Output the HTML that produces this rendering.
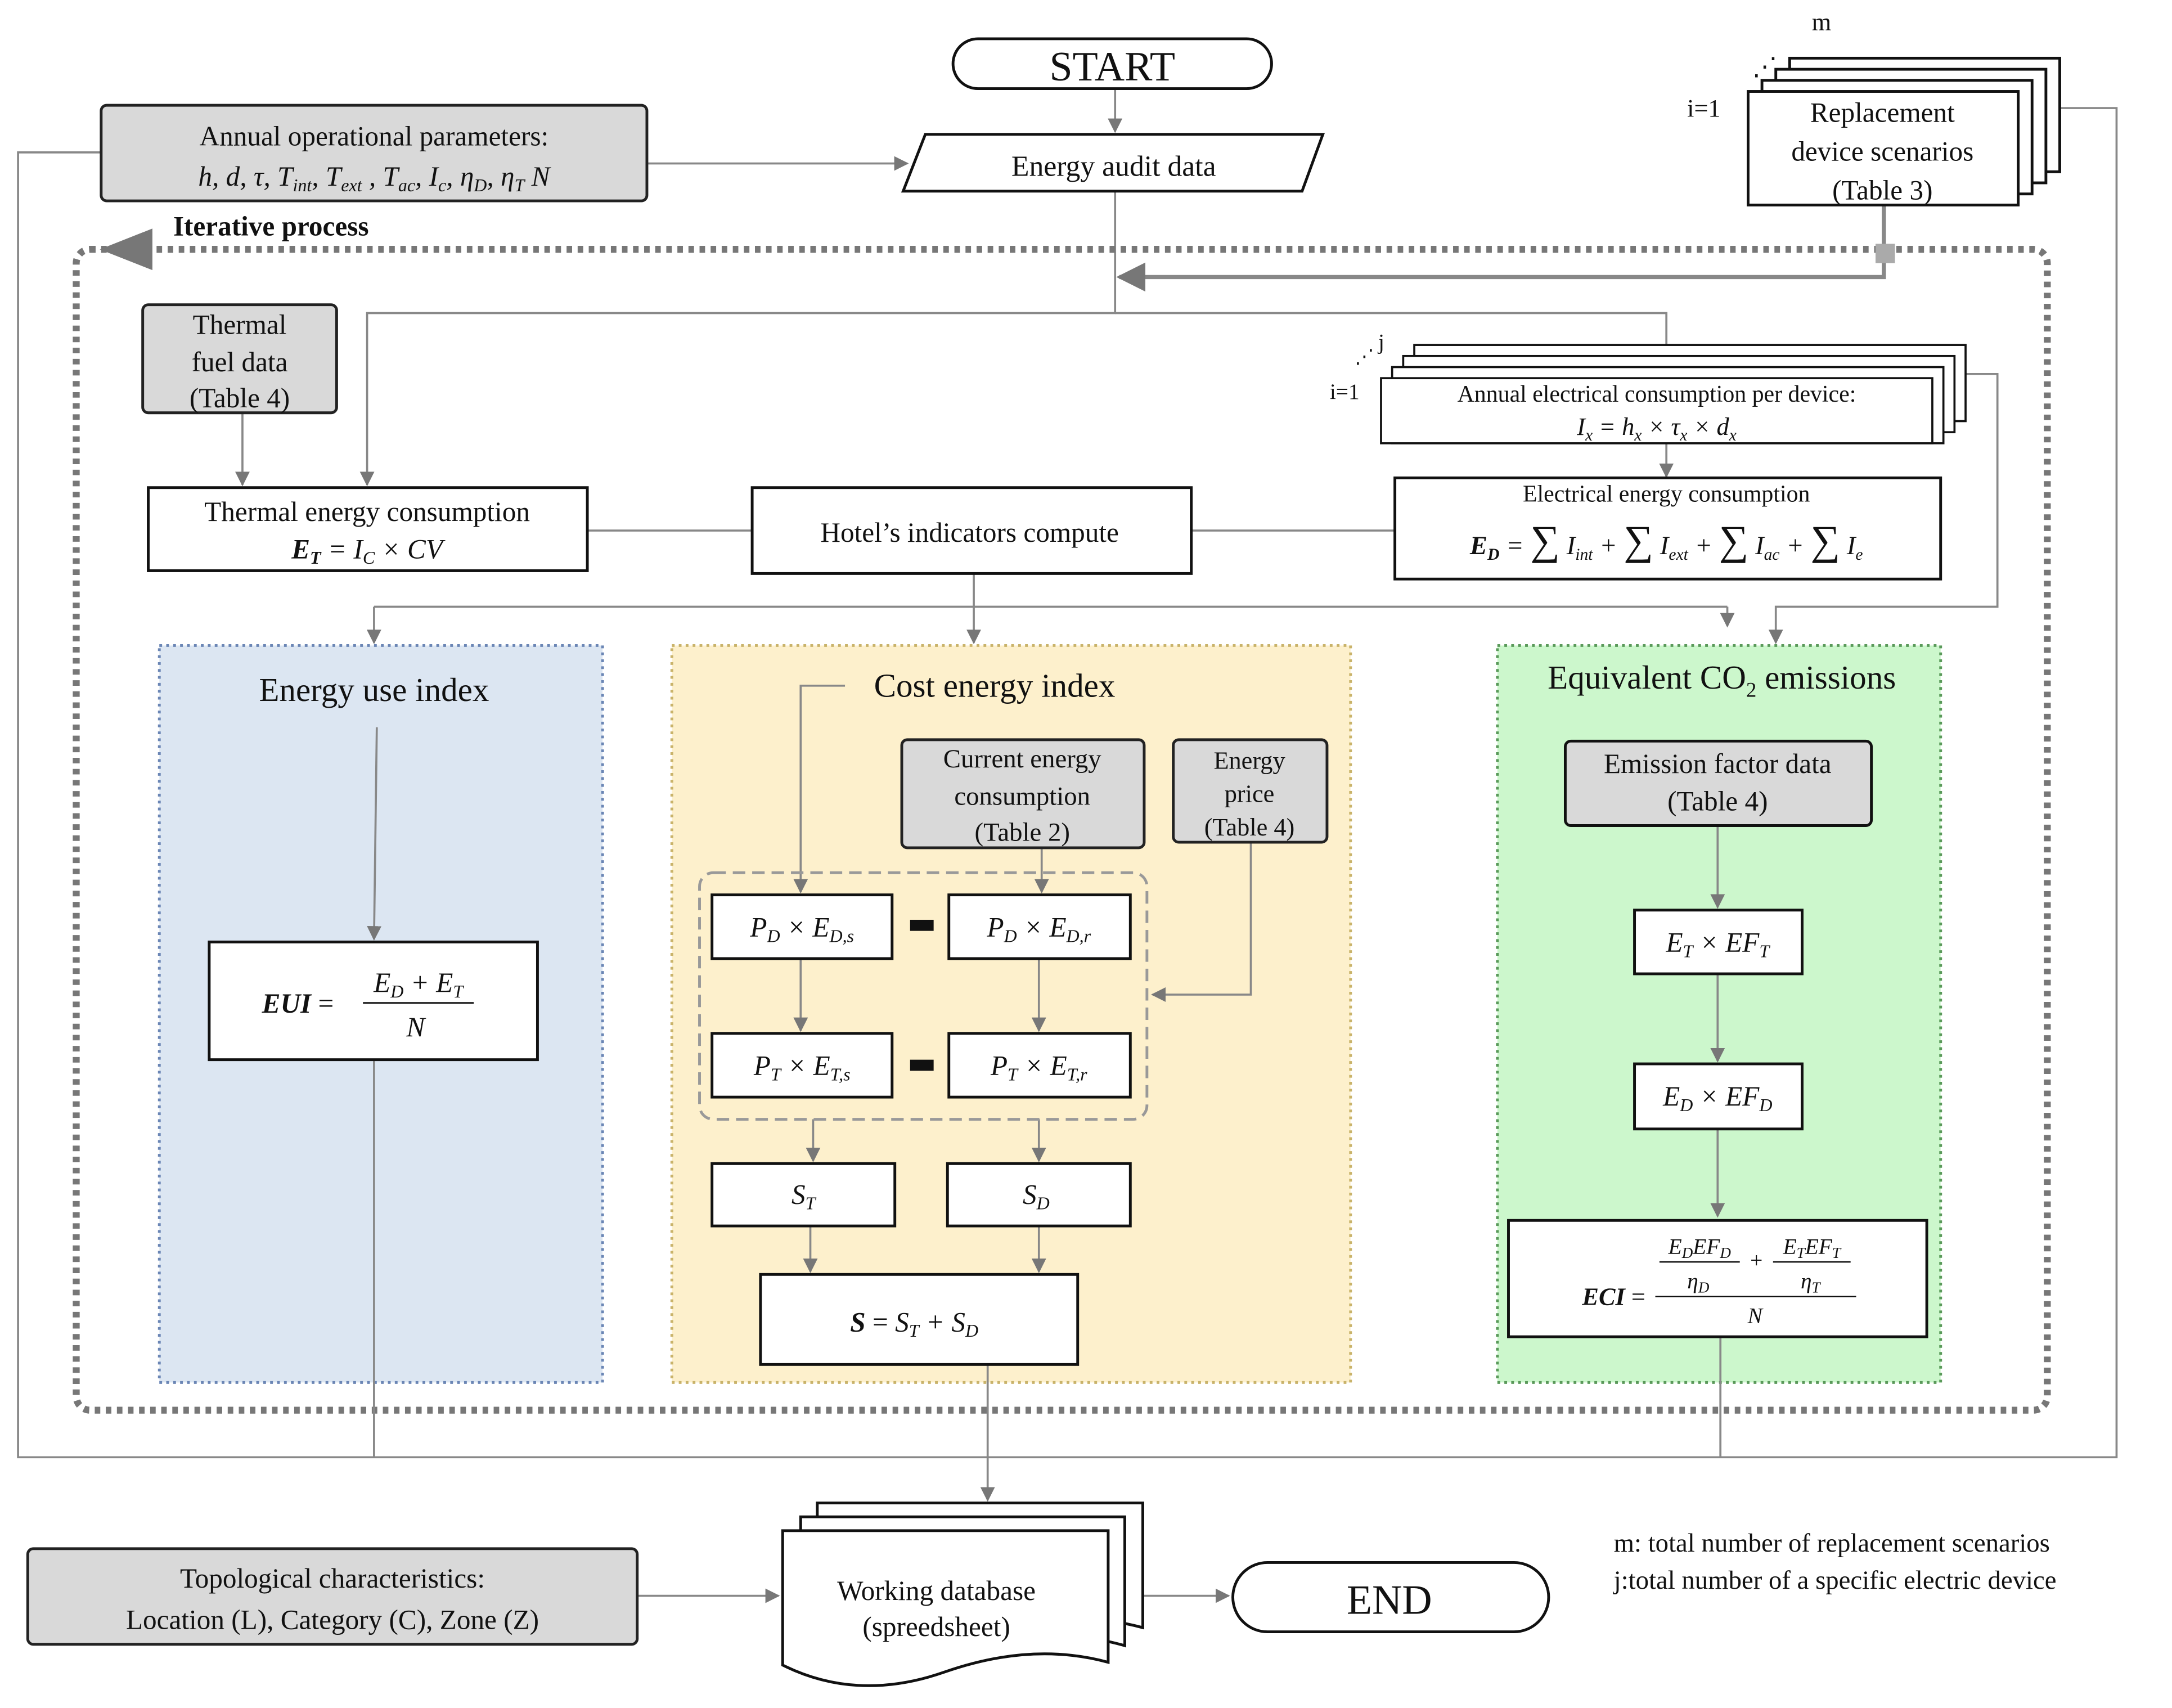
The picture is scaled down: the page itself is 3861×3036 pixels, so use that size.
<!DOCTYPE html>
<html><head><meta charset="utf-8"><style>
html,body{margin:0;padding:0;background:#fff}
svg{display:block;font-family:"Liberation Serif","DejaVu Serif",serif}
svg text{font-family:"Liberation Serif","DejaVu Serif",serif;fill:#111}
.i{font-style:italic}
.b{font-weight:bold}
</style></head><body>
<svg width="3861" height="3036" viewBox="0 0 1568 1233" xmlns="http://www.w3.org/2000/svg" font-family="Liberation Serif, DejaVu Serif, serif">
<defs>
<marker id="a" viewBox="0 0 10 10" refX="9" refY="5" markerWidth="7" markerHeight="7" orient="auto"><path d="M0,0L10,5L0,10z" fill="#777"/></marker>
</defs>
<g stroke="#888" stroke-width="1.5" fill="none">
<polyline points="73,110 13,110 13,1052 1528,1052 1528,78 1485,78"/>
<line x1="805" y1="64" x2="805" y2="95" marker-end="url(#a)"/>
<line x1="467" y1="118" x2="655" y2="118" marker-end="url(#a)"/>
<polyline points="805,138 805,226 265,226 265,350" marker-end="url(#a)"/>
<polyline points="805,226 1203,226 1203,250"/>
<polyline points="1360,148 1360,200 808,200" stroke-width="3" marker-end="url(#a)"/>
<line x1="175" y1="298" x2="175" y2="350" marker-end="url(#a)"/>
<line x1="424" y1="383" x2="543" y2="383"/>
<line x1="860" y1="383" x2="1007" y2="383"/>
<line x1="1203" y1="320" x2="1203" y2="344" marker-end="url(#a)"/>
<polyline points="1418,270 1442,270 1442,438 1282,438 1282,464" marker-end="url(#a)"/>
<line x1="703" y1="414" x2="703" y2="438"/>
<line x1="270" y1="438" x2="1247" y2="438"/>
<line x1="270" y1="438" x2="270" y2="464" marker-end="url(#a)"/>
<line x1="703" y1="438" x2="703" y2="464" marker-end="url(#a)"/>
<line x1="1247" y1="438" x2="1247" y2="452" marker-end="url(#a)"/>
</g>
<rect x="55" y="180" width="1423" height="838" rx="10" fill="none" stroke="#777" stroke-width="5" stroke-dasharray="4,4"/>
<path d="M72,180 L110,165 L110,195z" fill="#777"/>
<text x="125" y="170" font-size="20" class="b">Iterative process</text>
<rect x="1354" y="176" width="14" height="14" fill="#aaa"/>
<rect x="115" y="466" width="320" height="532" fill="#dce6f2" stroke="#6b86b5" stroke-width="2" stroke-dasharray="2,3"/>
<rect x="485" y="466" width="490" height="532" fill="#fdf0cc" stroke="#c9b36a" stroke-width="2" stroke-dasharray="2,3"/>
<rect x="1081" y="466" width="320" height="532" fill="#ccf7cc" stroke="#5a9a5a" stroke-width="2" stroke-dasharray="2,3"/>
<text x="270" y="506" font-size="24" text-anchor="middle">Energy use index</text>
<text x="718" y="503" font-size="24" text-anchor="middle">Cost energy index</text>
<text x="1243" y="497" font-size="24" text-anchor="middle">Equivalent CO<tspan font-size="15" dy="6">2</tspan><tspan dy="-6"> emissions</tspan></text>
<g stroke="#888" stroke-width="1.5" fill="none">
<line x1="272" y1="525" x2="270" y2="678" marker-end="url(#a)"/>
<polyline points="610,495 578,495 578,644" marker-end="url(#a)"/>
<line x1="752" y1="612" x2="752" y2="644" marker-end="url(#a)"/>
<line x1="578" y1="692" x2="578" y2="744" marker-end="url(#a)"/>
<line x1="750" y1="692" x2="750" y2="744" marker-end="url(#a)"/>
<polyline points="903,608 903,718 832,718" marker-end="url(#a)"/>
<line x1="587" y1="808" x2="587" y2="838" marker-end="url(#a)"/>
<line x1="750" y1="808" x2="750" y2="838" marker-end="url(#a)"/>
<line x1="585" y1="885" x2="585" y2="918" marker-end="url(#a)"/>
<line x1="750" y1="885" x2="750" y2="918" marker-end="url(#a)"/>
<line x1="713" y1="985" x2="713" y2="1083" marker-end="url(#a)"/>
<line x1="1240" y1="596" x2="1240" y2="655" marker-end="url(#a)"/>
<line x1="1240" y1="703" x2="1240" y2="766" marker-end="url(#a)"/>
<line x1="1240" y1="815" x2="1240" y2="878" marker-end="url(#a)"/>
<line x1="1242" y1="965" x2="1242" y2="1052"/>
<line x1="270" y1="765" x2="270" y2="1052"/>
<line x1="460" y1="1152" x2="562" y2="1152" marker-end="url(#a)"/>
<line x1="800" y1="1152" x2="887" y2="1152" marker-end="url(#a)"/>
</g>
<rect x="505" y="630" width="323" height="178" rx="10" fill="none" stroke="#999" stroke-width="2" stroke-dasharray="9,5"/>
<rect x="688" y="28" width="230" height="36" rx="18" fill="#fff" stroke="#111" stroke-width="2"/>
<text x="803" y="58" font-size="30" text-anchor="middle">START</text>
<polygon points="668,97 955,97 940,138 652,138" fill="#fff" stroke="#111" stroke-width="2"/>
<text x="804" y="127" font-size="21" text-anchor="middle">Energy audit data</text>
<rect x="73" y="76" width="394" height="69" rx="4" fill="#d9d9d9" stroke="#222" stroke-width="2"/>
<text x="270" y="105" font-size="20" text-anchor="middle">Annual  operational parameters:</text>
<text x="270" y="134" font-size="20" text-anchor="middle" class="i">h, d, τ, T<tspan font-size="13" dy="4">int</tspan><tspan dy="-4">, T</tspan><tspan font-size="13" dy="4">ext</tspan><tspan dy="-4"> , T</tspan><tspan font-size="13" dy="4">ac</tspan><tspan dy="-4">, I</tspan><tspan font-size="13" dy="4">c</tspan><tspan dy="-4">, η</tspan><tspan font-size="13" dy="4">D</tspan><tspan dy="-4">, η</tspan><tspan font-size="13" dy="4">T</tspan><tspan dy="-4"> N</tspan></text>
<g fill="#fff" stroke="#111" stroke-width="2">
<rect x="1292" y="42" width="195" height="82"/>
<rect x="1282" y="50" width="195" height="82"/>
<rect x="1272" y="58" width="195" height="82"/>
<rect x="1262" y="66" width="195" height="82"/>
</g>
<text x="1308" y="22" font-size="18">m</text>
<text x="1218" y="84" font-size="18">i=1</text>
<text x="1265" y="54" font-size="18">⋰</text>
<text x="1359" y="88" font-size="20" text-anchor="middle">Replacement</text>
<text x="1359" y="116" font-size="20" text-anchor="middle">device scenarios</text>
<text x="1359" y="144" font-size="20" text-anchor="middle">(Table 3)</text>
<rect x="103" y="220" width="140" height="78" rx="4" fill="#d9d9d9" stroke="#222" stroke-width="2"/>
<text x="173" y="241" font-size="20" text-anchor="middle">Thermal</text>
<text x="173" y="268" font-size="20" text-anchor="middle">fuel data</text>
<text x="173" y="294" font-size="20" text-anchor="middle">(Table 4)</text>
<rect x="107" y="352" width="317" height="60" fill="#fff" stroke="#111" stroke-width="2"/>
<text x="265" y="376" font-size="20" text-anchor="middle">Thermal energy consumption</text>
<text x="265" y="403" font-size="20" text-anchor="middle" class="i"><tspan class="b">E</tspan><tspan font-size="13" dy="4" class="b">T</tspan><tspan dy="-4"> = I</tspan><tspan font-size="13" dy="4">C</tspan><tspan dy="-4"> × CV</tspan></text>
<rect x="543" y="352" width="317" height="62" fill="#fff" stroke="#111" stroke-width="2"/>
<text x="700" y="391" font-size="20" text-anchor="middle">Hotel’s indicators compute</text>
<g fill="#fff" stroke="#111" stroke-width="1.5">
<rect x="1021" y="249" width="398" height="55"/>
<rect x="1013" y="257" width="398" height="55"/>
<rect x="1005" y="265" width="398" height="55"/>
<rect x="997" y="273" width="398" height="47"/>
</g>
<text x="995" y="252" font-size="16">j</text>
<text x="978" y="262" font-size="14">⋰</text>
<text x="960" y="288" font-size="16">i=1</text>
<text x="1196" y="290" font-size="17" text-anchor="middle">Annual electrical consumption  per device:</text>
<text x="1196" y="314" font-size="18" text-anchor="middle" class="i">I<tspan font-size="12" dy="4">x</tspan><tspan dy="-4"> = h</tspan><tspan font-size="12" dy="4">x</tspan><tspan dy="-4"> × τ</tspan><tspan font-size="12" dy="4">x</tspan><tspan dy="-4"> × d</tspan><tspan font-size="12" dy="4">x</tspan></text>
<rect x="1007" y="345" width="394" height="73" fill="#fff" stroke="#111" stroke-width="2"/>
<text x="1203" y="362" font-size="17" text-anchor="middle">Electrical energy consumption</text>
<text x="1203" y="400" font-size="19" text-anchor="middle" class="i"><tspan class="b">E</tspan><tspan font-size="12" dy="4" class="b">D</tspan><tspan dy="-4"> = </tspan><tspan font-size="30" font-style="normal">∑</tspan><tspan> I</tspan><tspan font-size="12" dy="4">int</tspan><tspan dy="-4"> + </tspan><tspan font-size="30" font-style="normal">∑</tspan><tspan> I</tspan><tspan font-size="12" dy="4">ext</tspan><tspan dy="-4"> + </tspan><tspan font-size="30" font-style="normal">∑</tspan><tspan> I</tspan><tspan font-size="12" dy="4">ac</tspan><tspan dy="-4"> + </tspan><tspan font-size="30" font-style="normal">∑</tspan><tspan> I</tspan><tspan font-size="12" dy="4">e</tspan></text>
<rect x="151" y="680" width="237" height="85" fill="#fff" stroke="#111" stroke-width="2"/>
<text x="215" y="731" font-size="20" text-anchor="middle" class="i b">EUI <tspan font-weight="normal" font-style="normal">=</tspan></text>
<text x="302" y="716" font-size="20" text-anchor="middle" class="i">E<tspan font-size="13" dy="4">D</tspan><tspan dy="-4"> + E</tspan><tspan font-size="13" dy="4">T</tspan></text>
<line x1="262" y1="724" x2="342" y2="724" stroke="#111" stroke-width="1.2"/>
<text x="300" y="748" font-size="20" text-anchor="middle" class="i">N</text>
<rect x="651" y="534" width="175" height="78" rx="4" fill="#d9d9d9" stroke="#222" stroke-width="2"/>
<text x="738" y="554" font-size="19" text-anchor="middle">Current energy</text>
<text x="738" y="581" font-size="19" text-anchor="middle">consumption</text>
<text x="738" y="607" font-size="19" text-anchor="middle">(Table 2)</text>
<rect x="847" y="534" width="111" height="74" rx="4" fill="#d9d9d9" stroke="#222" stroke-width="2"/>
<text x="902" y="555" font-size="18" text-anchor="middle">Energy</text>
<text x="902" y="579" font-size="18" text-anchor="middle">price</text>
<text x="902" y="603" font-size="18" text-anchor="middle">(Table 4)</text>
<g fill="#fff" stroke="#111" stroke-width="2">
<rect x="514" y="646" width="130" height="46"/>
<rect x="685" y="646" width="131" height="46"/>
<rect x="514" y="746" width="130" height="46"/>
<rect x="685" y="746" width="131" height="46"/>
<rect x="514" y="840" width="132" height="45"/>
<rect x="684" y="840" width="132" height="45"/>
<rect x="549" y="920" width="229" height="65"/>
<rect x="1130" y="535" width="221" height="61" rx="4" fill="#d9d9d9"/>
<rect x="1180" y="657" width="121" height="46"/>
<rect x="1180" y="768" width="121" height="47"/>
<rect x="1089" y="881" width="302" height="84"/>
</g>
<rect x="657" y="664" width="17" height="8" fill="#111"/>
<rect x="657" y="765" width="17" height="8" fill="#111"/>
<g font-size="20" text-anchor="middle" class="i">
<text x="579" y="676">P<tspan font-size="13" dy="4">D</tspan><tspan dy="-4"> × E</tspan><tspan font-size="13" dy="4">D,s</tspan></text>
<text x="750" y="676">P<tspan font-size="13" dy="4">D</tspan><tspan dy="-4"> × E</tspan><tspan font-size="13" dy="4">D,r</tspan></text>
<text x="579" y="776">P<tspan font-size="13" dy="4">T</tspan><tspan dy="-4"> × E</tspan><tspan font-size="13" dy="4">T,s</tspan></text>
<text x="750" y="776">P<tspan font-size="13" dy="4">T</tspan><tspan dy="-4"> × E</tspan><tspan font-size="13" dy="4">T,r</tspan></text>
<text x="580" y="869">S<tspan font-size="13" dy="4">T</tspan></text>
<text x="748" y="869">S<tspan font-size="13" dy="4">D</tspan></text>
<text x="660" y="961"><tspan class="b">S</tspan><tspan font-style="normal"> = </tspan>S<tspan font-size="13" dy="4">T</tspan><tspan dy="-4"> + S</tspan><tspan font-size="13" dy="4">D</tspan></text>
<text x="1240" y="687">E<tspan font-size="13" dy="4">T</tspan><tspan dy="-4"> × EF</tspan><tspan font-size="13" dy="4">T</tspan></text>
<text x="1240" y="798">E<tspan font-size="13" dy="4">D</tspan><tspan dy="-4"> × EF</tspan><tspan font-size="13" dy="4">D</tspan></text>
</g>
<text x="1240" y="558" font-size="20" text-anchor="middle">Emission factor data</text>
<text x="1240" y="585" font-size="20" text-anchor="middle">(Table 4)</text>
<text x="1165" y="942" font-size="18" text-anchor="middle" class="i b">ECI <tspan font-weight="normal" font-style="normal">=</tspan></text>
<g font-size="16" text-anchor="middle" class="i">
<text x="1227" y="905">E<tspan font-size="11" dy="3">D</tspan><tspan dy="-3">EF</tspan><tspan font-size="11" dy="3">D</tspan></text>
<line x1="1198" y1="911" x2="1256" y2="911" stroke="#111"/>
<text x="1226" y="930">η<tspan font-size="11" dy="3">D</tspan></text>
<text x="1268" y="915" font-style="normal">+</text>
<text x="1308" y="905">E<tspan font-size="11" dy="3">T</tspan><tspan dy="-3">EF</tspan><tspan font-size="11" dy="3">T</tspan></text>
<line x1="1280" y1="911" x2="1336" y2="911" stroke="#111"/>
<text x="1307" y="930">η<tspan font-size="11" dy="3">T</tspan></text>
<line x1="1195" y1="936" x2="1340" y2="936" stroke="#111"/>
<text x="1267" y="955">N</text>
</g>
<rect x="20" y="1118" width="440" height="69" rx="4" fill="#d9d9d9" stroke="#222" stroke-width="2"/>
<text x="240" y="1146" font-size="20" text-anchor="middle">Topological  characteristics:</text>
<text x="240" y="1176" font-size="20" text-anchor="middle">Location (L), Category (C), Zone (Z)</text>
<g fill="#fff" stroke="#111" stroke-width="2">
<path d="M590,1085 H825 V1175 Q770,1160 707,1180 T590,1178 Z"/>
<path d="M578,1095 H812 V1188 Q757,1172 695,1193 T578,1190 Z"/>
<path d="M565,1105 H800 V1200 Q745,1185 682,1207 T565,1202 Z"/>
</g>
<text x="676" y="1155" font-size="20" text-anchor="middle">Working database</text>
<text x="676" y="1181" font-size="20" text-anchor="middle">(spreedsheet)</text>
<rect x="890" y="1128" width="228" height="50" rx="25" fill="#fff" stroke="#111" stroke-width="2"/>
<text x="1003" y="1165" font-size="30" text-anchor="middle">END</text>
<text x="1165" y="1120" font-size="19">m: total number of replacement scenarios</text>
<text x="1165" y="1147" font-size="19">j:total number of a specific electric device</text>
</svg>
</body></html>
